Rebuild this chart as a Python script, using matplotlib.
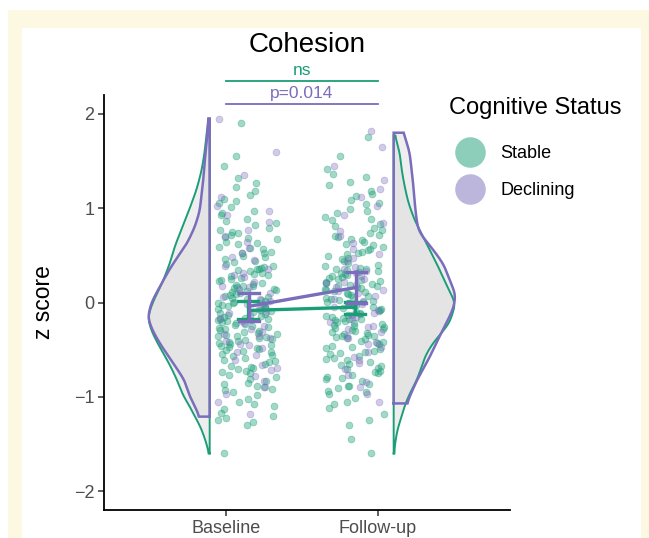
import numpy as np
import matplotlib
matplotlib.use("Agg")
import matplotlib.pyplot as plt
from matplotlib.patches import Rectangle, Polygon
from matplotlib.lines import Line2D

plt.rcParams['font.family'] = ['Liberation Sans', 'DejaVu Sans']

# ---------------- data ----------------
timepoints = ["Baseline", "Follow-up"]
groups = ["Stable", "Declining"]
group_colors = ["#1b9e77", "#7a6dbb"]
legend_title = "Cognitive Status"

stable_baseline = [
    -1.60, -1.30, -1.27, -1.25, -1.22, -1.20,
    -1.17, -1.13, -1.10, -1.08, -1.05, -1.02, -0.98, -0.95, -0.93, -0.90, -0.88, -0.85, -0.83, -0.81,
    -0.79, -0.77, -0.75, -0.73, -0.71, -0.69, -0.67, -0.65, -0.63, -0.61, -0.59, -0.57, -0.55, -0.53,
    -0.51, -0.50, -0.48, -0.47, -0.45, -0.44, -0.43, -0.42, -0.41, -0.40,
    -0.39, -0.38, -0.36, -0.35, -0.34, -0.33, -0.31, -0.30, -0.29, -0.27, -0.26, -0.25, -0.24, -0.22,
    -0.21, -0.20, -0.19, -0.18, -0.16, -0.15, -0.14, -0.13, -0.11, -0.10, -0.09, -0.07, -0.06, -0.04,
    -0.03, -0.01,
    0.01, 0.03, 0.04, 0.06, 0.08, 0.09, 0.11, 0.13, 0.14, 0.16, 0.18, 0.19, 0.21, 0.23, 0.24, 0.26,
    0.28, 0.29, 0.31, 0.33, 0.35, 0.36, 0.38, 0.39,
    0.41, 0.44, 0.46, 0.49, 0.52, 0.54, 0.57, 0.59, 0.62, 0.64, 0.67, 0.69, 0.72, 0.74, 0.77, 0.79,
    0.82, 0.86, 0.89, 0.93, 0.97, 1.01, 1.05, 1.10, 1.14, 1.18,
    1.22, 1.27, 1.32, 1.45, 1.55, 1.90,
    -0.92, -0.86, -0.74, -0.68, -0.62, -0.56, -0.49, -0.46, -0.37, -0.32, -0.28, -0.23, -0.17, -0.12,
    -0.08, -0.05, -0.02, 0.00, 0.02, 0.05, 0.07, 0.10, 0.12, 0.15, 0.17, 0.20, 0.25, 0.30, 0.34, 0.37,
    0.43, 0.48, 0.53, 0.58, 0.63, 0.68, 0.75, 0.84, 0.95, 1.08]
declining_baseline = [
    -1.18, -1.05, -0.97, -0.90, -0.83,
    -0.78, -0.72, -0.66, -0.61, -0.56, -0.52, -0.48, -0.44, -0.41,
    -0.38, -0.35, -0.31, -0.28, -0.25, -0.22, -0.19, -0.16, -0.13, -0.10, -0.07, -0.04, -0.02,
    0.02, 0.06, 0.10, 0.14, 0.18, 0.22, 0.27, 0.31, 0.35, 0.39,
    0.45, 0.52, 0.58, 0.64, 0.71, 0.77,
    0.85, 0.93, 1.02, 1.12,
    1.35, 1.60, 1.95,
    -0.69, -0.45, -0.33, -0.20, -0.11, 0.04, 0.16, 0.29, 0.48, 0.97]
stable_followup = [
    -1.60, -1.45, -1.30, -1.25,
    -1.18, -1.12, -1.08, -1.05, -1.01, -0.97, -0.94, -0.91, -0.88, -0.86, -0.83, -0.81,
    -0.79, -0.77, -0.75, -0.73, -0.71, -0.69, -0.67, -0.65, -0.63, -0.61, -0.59, -0.57, -0.55, -0.53,
    -0.51, -0.49, -0.47, -0.46, -0.44, -0.43, -0.42, -0.41,
    -0.39, -0.38, -0.37, -0.35, -0.34, -0.33, -0.32, -0.30, -0.29, -0.28, -0.27, -0.25, -0.24, -0.23,
    -0.22, -0.20, -0.19, -0.18, -0.17, -0.15, -0.14, -0.13, -0.12, -0.10, -0.09, -0.08, -0.07, -0.05,
    -0.04, -0.03, -0.02, -0.01,
    0.01, 0.02, 0.03, 0.05, 0.06, 0.07, 0.08, 0.10, 0.11, 0.12, 0.14, 0.15, 0.16, 0.17, 0.19, 0.20,
    0.21, 0.22, 0.24, 0.25, 0.26, 0.28, 0.29, 0.30, 0.32, 0.33, 0.34, 0.36, 0.37, 0.39,
    0.42, 0.44, 0.47, 0.49, 0.52, 0.54, 0.57, 0.59, 0.62, 0.64, 0.67, 0.69, 0.72, 0.74, 0.77, 0.79,
    0.83, 0.87, 0.91, 0.95, 0.99, 1.04, 1.09, 1.13, 1.18,
    1.25, 1.33, 1.42, 1.55, 1.75,
    -0.95, -0.89, -0.80, -0.74, -0.66, -0.60, -0.54, -0.48, -0.36, -0.31, -0.26, -0.21, -0.16, -0.11,
    -0.06, 0.00, 0.04, 0.09, 0.13, 0.18, 0.23, 0.27, 0.31, 0.35, 0.40, 0.46, 0.51, 0.56, 0.61, 0.66,
    0.71, 0.81, 0.89, 0.97, 1.06, 1.15, 1.28, 1.36]
declining_followup = [
    -1.05, -0.97, -0.90, -0.84,
    -0.77, -0.70, -0.64, -0.58, -0.52, -0.47, -0.42,
    -0.38, -0.35, -0.31, -0.28, -0.25, -0.21, -0.18, -0.15, -0.11, -0.08, -0.05, -0.02,
    0.01, 0.04, 0.07, 0.10, 0.13, 0.16, 0.19, 0.22, 0.25, 0.28, 0.31, 0.35, 0.38,
    0.44, 0.51, 0.57, 0.63, 0.70, 0.76,
    0.84, 0.93, 1.02, 1.12,
    1.30, 1.45, 1.65, 1.82,
    -0.61, -0.44, -0.26, -0.13, 0.02, 0.12, 0.21, 0.33, 0.47, 1.20]

# group means with error bars (Baseline, Follow-up)
mean_stable = [-0.085, -0.05]
lo_stable = [-0.18, -0.12]
hi_stable = [0.015, 0.005]
mean_declining = [-0.04, 0.16]
lo_declining = [-0.20, 0.00]
hi_declining = [0.105, 0.32]

# half-violin density profiles (relative width)
vb_stable_y = [-1.60, -1.50, -1.40, -1.30, -1.21, -1.10, -1.00, -0.83, -0.65, -0.47, -0.30, -0.16,
               0.00, 0.20, 0.40, 0.60, 0.80, 1.00, 1.20, 1.40, 1.60, 1.80, 1.95]
vb_stable_d = [0.01, 0.05, 0.10, 0.16, 0.24, 0.32, 0.42, 0.52, 0.65, 0.81, 0.94, 1.00,
               0.92, 0.77, 0.65, 0.56, 0.44, 0.32, 0.21, 0.13, 0.08, 0.05, 0.01]
vb_declining_y = [-1.21, -1.10, -1.00, -0.83, -0.65, -0.47, -0.30, -0.16, 0.00, 0.16, 0.35, 0.50,
                  0.62, 0.80, 0.97, 1.15, 1.32, 1.50, 1.68, 1.95]
vb_declining_d = [0.16, 0.24, 0.32, 0.40, 0.58, 0.77, 0.92, 1.00, 0.94, 0.81, 0.65, 0.50,
                  0.37, 0.24, 0.16, 0.13, 0.10, 0.08, 0.05, 0.02]
vf_stable_y = [-1.60, -1.50, -1.35, -1.20, -1.07, -0.95, -0.83, -0.70, -0.58, -0.45, -0.37, -0.22,
               -0.01, 0.16, 0.35, 0.52, 0.70, 0.87, 1.05, 1.22, 1.40, 1.58, 1.70, 1.77]
vf_stable_d = [0.01, 0.02, 0.06, 0.13, 0.19, 0.27, 0.37, 0.44, 0.50, 0.61, 0.71, 0.90,
               1.00, 0.87, 0.74, 0.61, 0.47, 0.34, 0.24, 0.18, 0.13, 0.10, 0.05, 0.02]
vf_declining_y = [-1.07, -0.95, -0.83, -0.58, -0.37, -0.22, -0.05, 0.09, 0.16, 0.40, 0.55, 0.65,
                  0.76, 0.87, 1.05, 1.22, 1.40, 1.58, 1.70, 1.80]
vf_declining_d = [0.21, 0.29, 0.37, 0.58, 0.73, 0.85, 0.97, 1.00, 0.95, 0.81, 0.65, 0.52,
                  0.40, 0.37, 0.34, 0.32, 0.29, 0.26, 0.21, 0.15]

sig_labels = ["ns", "p=0.014"]

# ---------------- figure ----------------
W, H = 649, 538
fig = plt.figure(figsize=(W / 100, H / 100), dpi=100)
fig.patch.set_facecolor("white")
fig.add_artist(Rectangle((8 / W, 0), 1 - 8 / W, 1 - 10 / H, transform=fig.transFigure,
                         facecolor="#fdf8e2", edgecolor="none", zorder=-10))
fig.add_artist(Rectangle((22 / W, 0), (641 - 22) / W, 1 - 28 / H, transform=fig.transFigure,
                         facecolor="white", edgecolor="none", zorder=-9))

ax = fig.add_axes([104 / W, 28 / H, (510 - 104) / W, (510 - 95) / H])
ax.set_facecolor("none")
ax.set_xlim(0.2, 2.87)
ax.set_ylim(-2.2, 2.2)


def smooth_profile(ys, ds):
    ys = np.asarray(ys, float)
    ds = np.asarray(ds, float)
    yy = np.linspace(ys[0], ys[-1], 600)
    dd = np.interp(yy, ys, ds)
    step = yy[1] - yy[0]
    sig = 0.05 / step
    k = np.arange(-int(3 * sig), int(3 * sig) + 1)
    ker = np.exp(-0.5 * (k / sig) ** 2)
    ker /= ker.sum()
    pad = len(k) // 2
    dp = np.pad(dd, pad, mode="edge")
    sm = np.convolve(dp, ker, mode="valid")
    return yy, sm


width_scale = 0.408
fill_col = "#d6d6d6"
violins = [
    (0.895, -1, vb_stable_y, vb_stable_d, group_colors[0], 1.4),
    (0.895, -1, vb_declining_y, vb_declining_d, group_colors[1], 1.8),
    (2.105, 1, vf_stable_y, vf_stable_d, group_colors[0], 1.4),
    (2.105, 1, vf_declining_y, vf_declining_d, group_colors[1], 1.8),
]
outlines = []
for x0, side, ys, ds, col, lw in violins:
    yy, dd = smooth_profile(ys, ds)
    xs = x0 + side * dd * width_scale
    px = np.concatenate([[x0], xs, [x0], [x0]])
    py = np.concatenate([[yy[0]], yy, [yy[-1]], [yy[0]]])
    ax.add_patch(Polygon(np.column_stack([px, py]), closed=True, facecolor=fill_col,
                         alpha=0.4, edgecolor="none", zorder=1))
    outlines.append((px, py, col, lw))
for px, py, col, lw in outlines:
    ax.plot(px, py, color=col, lw=lw, zorder=2, solid_joinstyle="miter")

# jittered points
rng = np.random.default_rng(11)
point_sets = [
    (1.14, stable_baseline, group_colors[0], 0.4),
    (1.14, declining_baseline, group_colors[1], 0.35),
    (1.85, stable_followup, group_colors[0], 0.4),
    (1.85, declining_followup, group_colors[1], 0.35),
]
for cx, vals, col, a in point_sets:
    vals = np.asarray(vals)
    xj = cx + rng.uniform(-0.2, 0.2, len(vals))
    ax.scatter(xj, vals, s=24, color=col, alpha=a, linewidths=0.6, edgecolors=col, zorder=3)

# means + error bars
xpos_s = [1.145, 1.85]
xpos_d = [1.155, 1.86]
cap = 0.065
for xp, m, lo, hi, col in [(xpos_s, mean_stable, lo_stable, hi_stable, group_colors[0]),
                           (xpos_d, mean_declining, lo_declining, hi_declining, group_colors[1])]:
    ax.plot(xp, m, color=col, lw=2.4, zorder=5, solid_capstyle="butt")
    for i in range(2):
        ax.plot([xp[i], xp[i]], [lo[i], hi[i]], color=col, lw=2.4, zorder=5)
        ax.plot([xp[i] - cap, xp[i] + cap], [lo[i], lo[i]], color=col, lw=2.4, zorder=5)
        ax.plot([xp[i] - cap, xp[i] + cap], [hi[i], hi[i]], color=col, lw=2.4, zorder=5)

# significance annotations
ax.plot([1, 2], [2.35, 2.35], color=group_colors[0], lw=1.3, clip_on=False)
ax.text(1.5, 2.46, sig_labels[0], color=group_colors[0], ha="center", va="center",
        fontsize=12.5)
ax.plot([1, 2], [2.105, 2.105], color=group_colors[1], lw=1.3, clip_on=False)
ax.text(1.5, 2.215, sig_labels[1], color=group_colors[1], ha="center", va="center",
        fontsize=12.5)

# axes styling
for s in ["top", "right"]:
    ax.spines[s].set_visible(False)
for s in ["left", "bottom"]:
    ax.spines[s].set_linewidth(1.3)
    ax.spines[s].set_color("black")
ax.set_xticks([1, 2])
ax.set_xticklabels(timepoints)
ax.set_yticks([-2, -1, 0, 1, 2])
ax.tick_params(axis="both", length=4, width=1.1, color="#333333", labelcolor="#4d4d4d",
               labelsize=13, pad=3)
ax.set_ylabel("z score", fontsize=16.5, color="black")
ax.yaxis.set_label_coords(-0.12, 0.5)

fig.text(307 / W, 1 - 45 / H, "Cohesion", ha="center", va="center", fontsize=20)

# legend
fig.text(449 / W, 1 - 108 / H, legend_title, ha="left", va="center", fontsize=17)
handles = [Line2D([], [], marker="o", linestyle="", markersize=22, markerfacecolor=c,
                  markeredgewidth=0, alpha=0.5) for c in group_colors]
leg = fig.legend(handles, groups, loc="upper left",
                 bbox_to_anchor=(452 / W, 1 - 145 / H), frameon=False, fontsize=13,
                 labelspacing=1.12, handlelength=2.0, handletextpad=0.67,
                 borderpad=0, borderaxespad=0)

fig.savefig("out.png", dpi=100)
